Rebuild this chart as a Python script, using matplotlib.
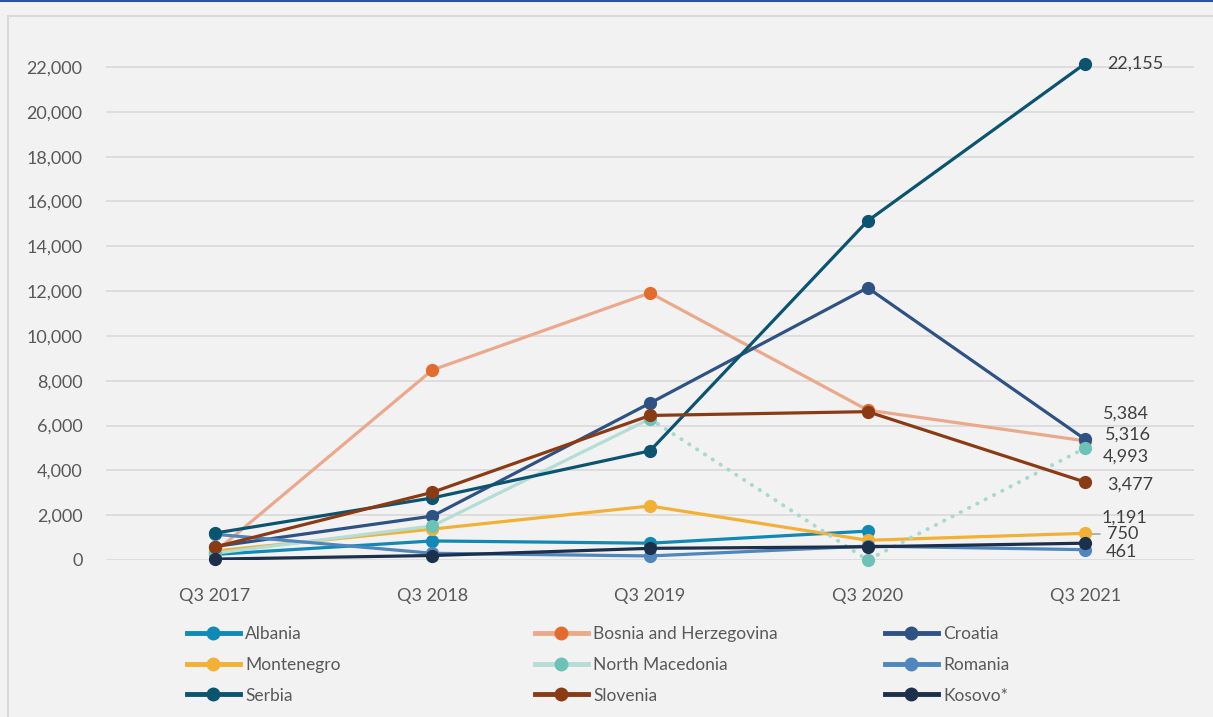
import matplotlib
matplotlib.use("Agg")
import matplotlib.pyplot as plt
from matplotlib.lines import Line2D
from matplotlib.patches import Rectangle

plt.rcParams['font.family'] = ['Lato', 'DejaVu Sans']

quarters = ["Q3 2017", "Q3 2018", "Q3 2019", "Q3 2020", "Q3 2021"]

albania = [250, 850, 750, 1290, None]
bosnia = [350, 8480, 11920, 6690, 5316]
croatia = [600, 1960, 7000, 12150, 5384]
montenegro = [400, 1380, 2410, 880, 1191]
north_macedonia = [300, 1520, 6300, 0, 4993]
romania = [1150, 300, 180, 620, 461]
serbia = [1200, 2770, 4870, 15130, 22155]
slovenia = [580, 3020, 6450, 6620, 3477]
kosovo = [40, 200, 520, 590, 750]

# name, values, line colour, marker colour
series = [
    ("Albania", albania, "#0f89b5", "#0f89b5"),
    ("Bosnia and Herzegovina", bosnia, "#eba98c", "#e36b2c"),
    ("Croatia", croatia, "#2e5283", "#2e5283"),
    ("Montenegro", montenegro, "#f2b034", "#f2b034"),
    ("North Macedonia", north_macedonia, "#b4ddd6", "#6cc2b6"),
    ("Romania", romania, "#4f86bd", "#4f86bd"),
    ("Serbia", serbia, "#0b5470", "#0b5470"),
    ("Slovenia", slovenia, "#8a3b14", "#8a3b14"),
    ("Kosovo*", kosovo, "#1c2f4b", "#1c2f4b"),
]

end_labels = ["22,155", "5,384", "5,316", "4,993", "3,477", "1,191", "750", "461"]
end_values = [22155, 5384, 5316, 4993, 3477, 1191, 750, 461]
label_offsets = [(22, 0), (18, 26), (20, 6), (18, -9), (22, -3), (16, 16), (22, 9), (21, -2)]

bg = "#f2f2f2"
fig = plt.figure(figsize=(12.13, 7.17), dpi=100, facecolor=bg)
ax = fig.add_axes([106 / 1213, 157 / 717, 1088 / 1213, 515.4 / 717], facecolor=bg)

x = list(range(len(quarters)))
lw = 2.3
ms = 8.5
for name, vals, lc, mc in series:
    if name == "North Macedonia":
        ax.plot(x[:3], vals[:3], color=lc, lw=lw, solid_capstyle="round", zorder=3)
        ax.plot(x[2:], vals[2:], color="#a9d8cf", lw=2.8, ls=(0, (0.1, 2.3)),
                dash_capstyle="round", zorder=3)
        ax.plot(x, vals, ls="none", marker="o", ms=ms, color=mc, zorder=3, clip_on=False)
    else:
        xs = [i for i, v in zip(x, vals) if v is not None]
        vs = [v for v in vals if v is not None]
        ax.plot(xs, vs, color=lc, lw=lw, zorder=3)
        ax.plot(xs, vs, ls="none", marker="o", ms=ms, color=mc, zorder=3, clip_on=False)

for lab, v, off in zip(end_labels, end_values, label_offsets):
    if lab == "750":
        ax.annotate(lab, xy=(4, v), xytext=off, textcoords="offset pixels",
                    ha="left", va="center", fontsize=13, color="#404040",
                    arrowprops=dict(arrowstyle="-", color="#a6a6a6", lw=1.2,
                                    connectionstyle="angle,angleA=0,angleB=90",
                                    shrinkA=3, shrinkB=0, relpos=(0, 0.5)),
                    zorder=2)
    else:
        ax.annotate(lab, xy=(4, v), xytext=off, textcoords="offset pixels",
                    ha="left", va="center", fontsize=13, color="#404040")

ax.set_xlim(-0.5, 4.5)
ax.set_ylim(0, 23000)
ax.set_yticks(range(0, 22001, 2000))
ax.set_yticklabels([f"{t:,}" for t in range(0, 22001, 2000)])
ax.set_xticks(x)
ax.set_xticklabels(quarters)
ax.tick_params(axis="both", length=0, labelsize=13, labelcolor="#595959")
ax.tick_params(axis="y", pad=17)
ax.tick_params(axis="x", pad=20)
ax.yaxis.grid(True, color="#d9d9d9", lw=1.2)
ax.set_axisbelow(True)
for s in ax.spines.values():
    s.set_visible(False)

# legend, three columns placed by hand
cols = [[0, 3, 6], [1, 4, 7], [2, 5, 8]]
col_x = [187, 535, 885]
for cx, idx in zip(col_x, cols):
    handles = [Line2D([], [], color=series[i][2], lw=3.5, marker="o", ms=9,
                      markerfacecolor=series[i][3], markeredgecolor=series[i][3])
               for i in idx]
    labels = [series[i][0] for i in idx]
    leg = fig.legend(handles, labels, loc="upper left",
                     bbox_to_anchor=(cx / 1213, 1 - 626 / 717),
                     frameon=False, fontsize=12.5, handlelength=3.05,
                     handletextpad=0.3, labelspacing=0.85, borderaxespad=0,
                     borderpad=0)
    for t in leg.get_texts():
        t.set_color("#595959")

# frame and top rule
fig.patches.append(Rectangle((8 / 1213, -0.1), 1.2, (717 - 16) / 717 + 0.1,
                             transform=fig.transFigure, fill=False,
                             edgecolor="#d9d9d9", lw=1.5))
fig.add_artist(Line2D([0, 1], [1 - 0.7 / 717, 1 - 0.7 / 717], transform=fig.transFigure,
                      color="#2f5597", lw=1.5))

fig.savefig("out.png", dpi=100, facecolor=bg)
